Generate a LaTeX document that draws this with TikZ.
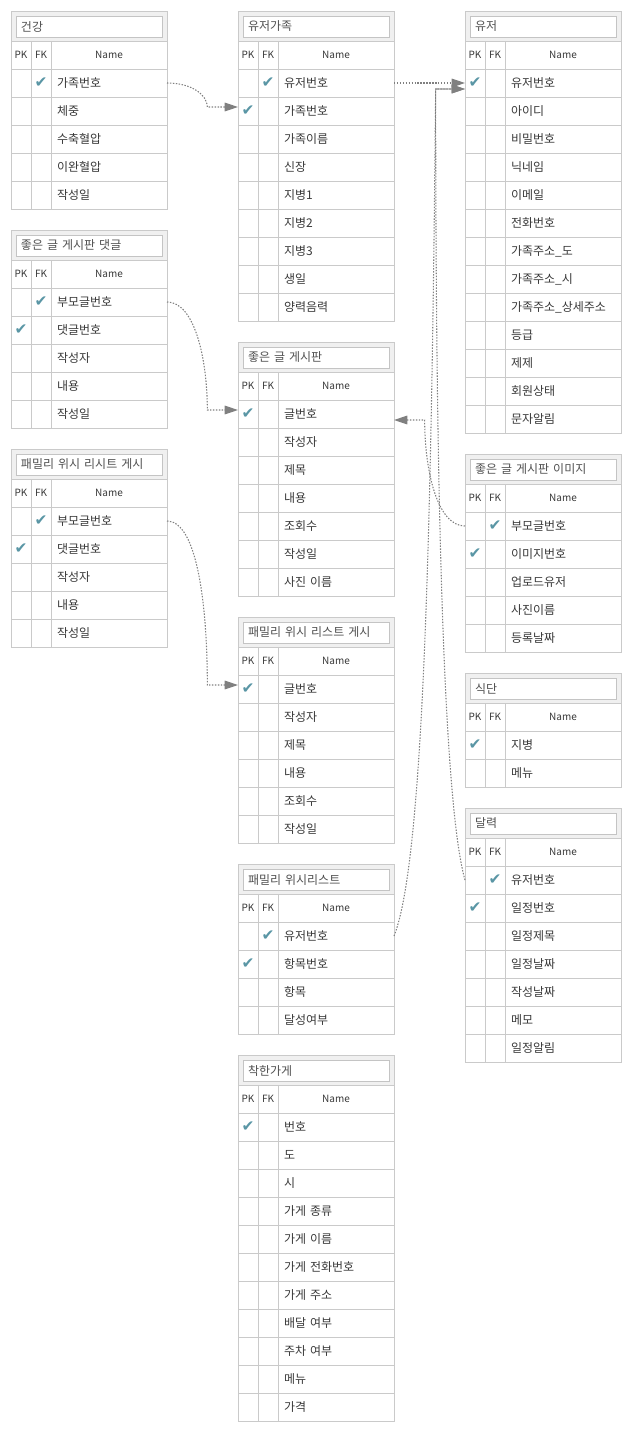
\documentclass[tikz,border=0pt]{standalone}
\usepackage{fontspec}
\setmainfont{Noto Sans CJK KR}
\newfontfamily\checkfont{DejaVu Sans}
\usetikzlibrary{arrows.meta}
\definecolor{gridGray}{HTML}{CACACA}
\definecolor{headGray}{HTML}{F0F0F0}
\definecolor{fieldGray}{HTML}{C4C4C4}
\definecolor{textGray}{HTML}{383838}
\definecolor{titleGray}{HTML}{505050}
\definecolor{checkTeal}{HTML}{5A96A5}
\definecolor{linkGray}{HTML}{808080}
\tikzset{gridcell/.style={draw=gridGray, line width=0.75pt},
    titlefield/.style={rectangle, draw=fieldGray, fill=white, line width=0.75pt, outer sep=0pt,
      minimum width=109.5pt, minimum height=15.75pt, text width=102pt, inner xsep=3.75pt,
      inner ysep=0pt, align=left, text=titleGray, font=\fontsize{9}{10}\selectfont},
    headtext/.style={inner sep=0pt, text=textGray, font=\fontsize{7.5}{9}\selectfont},
    rowcell/.style={rectangle, draw=gridGray, line width=0.75pt, outer sep=0pt, anchor=north west,
      minimum width=117pt, minimum height=21pt, text width=108pt, inner xsep=4.5pt,
      inner ysep=0pt, align=left, text=textGray, font=\fontsize{9}{10}\selectfont},
    keymark/.style={inner sep=0pt, text=checkTeal, font=\checkfont\fontsize{11.5}{11.5}\selectfont},
    rel/.style={draw=linkGray, line width=0.8pt, dash pattern=on 1.1pt off 1.1pt,
      -{Triangle[length=10pt,width=6.5pt]}}}
% table: name, x, y, title, rows (0 = none, 1 = PK, 2 = FK)
\newcommand{\erdTable}[5]{%
  \begin{scope}[shift={(#2,#3)}]
    \draw[gridcell, fill=headGray] (0,0) rectangle (156,30);
    \node[titlefield] (#1) at (78,15.5) {#4};
    \draw[gridcell] (0,30) rectangle (156,58) (20,30) -- (20,58) (40,30) -- (40,58);
    \node[headtext] at (10,44) {PK};
    \node[headtext] at (30,44) {FK};
    \node[headtext] at (98,44) {Name};
    \foreach \k/\lab [count=\i] in {#5} {
      \node[rowcell] (#1-\i) at (0,{30+28*\i}) {\hspace*{30pt}\lab};
      \draw[gridcell] (20,{30+28*\i}) -- (20,{58+28*\i}) (40,{30+28*\i}) -- (40,{58+28*\i});
      \ifnum\k>0 \node[keymark] at ({20*\k-10},{44+28*\i}) {✔};\fi
    }
  \end{scope}}

\begin{document}
\begin{tikzpicture}[x=0.75pt, y=-0.75pt]
    \useasboundingbox (0,0) rectangle (638,1431);
    % left column
    \erdTable{health}{11}{11}{건강}{2/가족번호, 0/체중, 0/수축혈압, 0/이완혈압, 0/작성일}
    \erdTable{boardReply}{11}{230}{좋은 글 게시판 댓글}{2/부모글번호, 1/댓글번호, 0/작성자, 0/내용, 0/작성일}
    \erdTable{wishPostReply}{11}{449}{패밀리 위시 리시트 게시}{2/부모글번호, 1/댓글번호, 0/작성자, 0/내용, 0/작성일}
    % middle column
    \erdTable{family}{238}{11}{유저가족}{2/유저번호, 1/가족번호, 0/가족이름, 0/신장, 0/지병1, 0/지병2, 0/지병3, 0/생일, 0/양력음력}
    \erdTable{board}{238}{342}{좋은 글 게시판}{1/글번호, 0/작성자, 0/제목, 0/내용, 0/조회수, 0/작성일, 0/사진 이름}
    \erdTable{wishPost}{238}{617}{패밀리 위시 리스트 게시}{1/글번호, 0/작성자, 0/제목, 0/내용, 0/조회수, 0/작성일}
    \erdTable{wishList}{238}{864}{패밀리 위시리스트}{2/유저번호, 1/항목번호, 0/항목, 0/달성여부}
    \erdTable{goodShop}{238}{1055}{착한가게}{1/번호, 0/도, 0/시, 0/가게 종류, 0/가게 이름, 0/가게 전화번호, 0/가게 주소, 0/배달 여부, 0/주차 여부, 0/메뉴, 0/가격}
    % right column
    \erdTable{user}{465}{11}{유저}{1/유저번호, 0/아이디, 0/비밀번호, 0/닉네임, 0/이메일, 0/전화번호, 0/가족주소\_도, 0/가족주소\_시, 0/가족주소\_상세주소, 0/등급, 0/제제, 0/회원상태, 0/문자알림}
    \erdTable{boardImg}{465}{454}{좋은 글 게시판 이미지}{2/부모글번호, 1/이미지번호, 0/업로드유저, 0/사진이름, 0/등록날짜}
    \erdTable{diet}{465}{673}{식단}{1/지병, 0/메뉴}
    \erdTable{calendar}{465}{808}{달력}{2/유저번호, 1/일정번호, 0/일정제목, 0/일정날짜, 0/작성날짜, 0/메모, 0/일정알림}
    %
    % relations
    \draw[rel] (health-1.east) .. controls +(25,0) and +(0,-12) .. ([xshift=-23pt,yshift=3pt]family-2.west) -- ([yshift=3pt]family-2.west);
    \draw[rel] (boardReply-1.east) .. controls +(28,0) and +(0,-50) .. ([xshift=-23pt,yshift=3pt]board-1.west) -- ([yshift=3pt]board-1.west);
    \draw[rel] (wishPostReply-1.east) .. controls +(30,0) and +(0,-80) .. ([xshift=-23pt,yshift=3pt]wishPost-1.west) -- ([yshift=3pt]wishPost-1.west);
    \draw[rel] (family-1.east) -- (user-1.west);
    \draw[rel] (boardImg-1.west) .. controls +(-28,0) and +(0,50) .. ([xshift=23pt,yshift=-4.5pt]board-1.east) -- ([yshift=-4.5pt]board-1.east);
    \draw[rel] (calendar-1.west) .. controls +(-17,-60) and +(0,511) .. ([xshift=-22pt,yshift=-4.5pt]user-1.west) -- ([yshift=-4.5pt]user-1.west);
    \draw[rel] (wishList-1.east) .. controls +(31,-77) and +(-4,411) .. ([xshift=-22pt,yshift=-4.5pt]user-1.west) -- ([yshift=-4.5pt]user-1.west);
\end{tikzpicture}
\end{document}
